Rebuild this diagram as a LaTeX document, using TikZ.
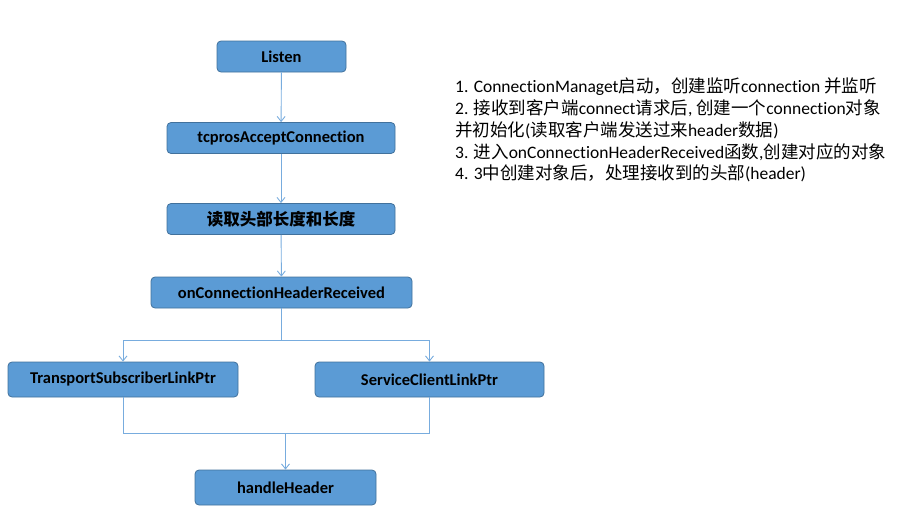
\documentclass[tikz,border=0pt]{standalone}
\usepackage{fontspec}
\setmainfont[Ligatures=NoCommon]{Carlito}
\newfontfamily\zh{Noto Sans CJK SC}
\usepackage{tikz}
\usetikzlibrary{arrows.meta}
\definecolor{boxblue}{RGB}{91, 155, 213}
\definecolor{boxedge}{RGB}{65, 113, 156}
\definecolor{linkblue}{RGB}{120, 172, 222}

\begin{document}
\begin{tikzpicture}[x=1pt, y=-1pt,
    blk/.style={draw=boxedge, fill=boxblue, rounded corners=4pt, line width=0.8pt,
                minimum height=31pt, inner sep=0pt, font=\fontsize{16.5}{18}\selectfont\bfseries},
    ln/.style={linkblue, line width=0.9pt},
    arr/.style={ln, -{Straight Barb[length=5pt, width=8pt]}}]
    \useasboundingbox (0,0) rectangle (918,522);

    % 主流程
    \node[blk, minimum width=129pt] (listen) at (281.5, 56.5) {Listen};
    \node[blk, minimum width=228pt] (accept) at (281, 138) {tcprosAcceptConnection};
    \node[blk, minimum width=228pt] (readhdr) at (281, 219) {{\zh 读取头部长度和长度}};
    \node[blk, minimum width=261pt] (onhdr) at (281.5, 292.5) {onConnectionHeaderReceived};

    % 两个分支
    \node[blk, minimum width=230pt, minimum height=35pt] (subLink) at (123, 379.5) {TransportSubscriberLinkPtr};
    \node[blk, minimum width=229pt, minimum height=35pt] (srvLink) at (429.5, 379.5) {ServiceClientLinkPtr};
    \node[blk, minimum width=181pt, minimum height=35pt] (handle) at (285.5, 487.5) {handleHeader};

    \draw[arr] (listen) -- (accept);
    \draw[arr] (accept) -- (readhdr);
    \draw[arr] (readhdr) -- (onhdr);

    % 分叉
    \coordinate (split) at (281.5, 340);
    \draw[ln] (onhdr) -- (split);
    \draw[arr] (split) -| (subLink);
    \draw[arr] (split) -| (srvLink);

    % 汇合
    \coordinate (merge) at (285.5, 433);
    \draw[ln] (subLink) |- (merge);
    \draw[ln] (srvLink) |- (merge);
    \draw[arr] (merge) -- (handle);

    % 说明
    \node[anchor=north west, align=left, inner sep=0pt,
          font=\fontsize{17.5}{21.7}\selectfont] (notes) at (455, 78) {%
        1. ConnectionManaget{\zh 启动，创建监听}connection {\zh 并监听}\\
        2. {\zh 接收到客户端}connect{\zh 请求后}, {\zh 创建一个}connection{\zh 对象}\\
        {\zh 并初始化}({\zh 读取客户端发送过来}header{\zh 数据})\\
        3. {\zh 进入}onConnectionHeaderReceived{\zh 函数},{\zh 创建对应的对象}\\
        4. 3{\zh 中创建对象后，处理接收到的头部}(header)};
\end{tikzpicture}
\end{document}
